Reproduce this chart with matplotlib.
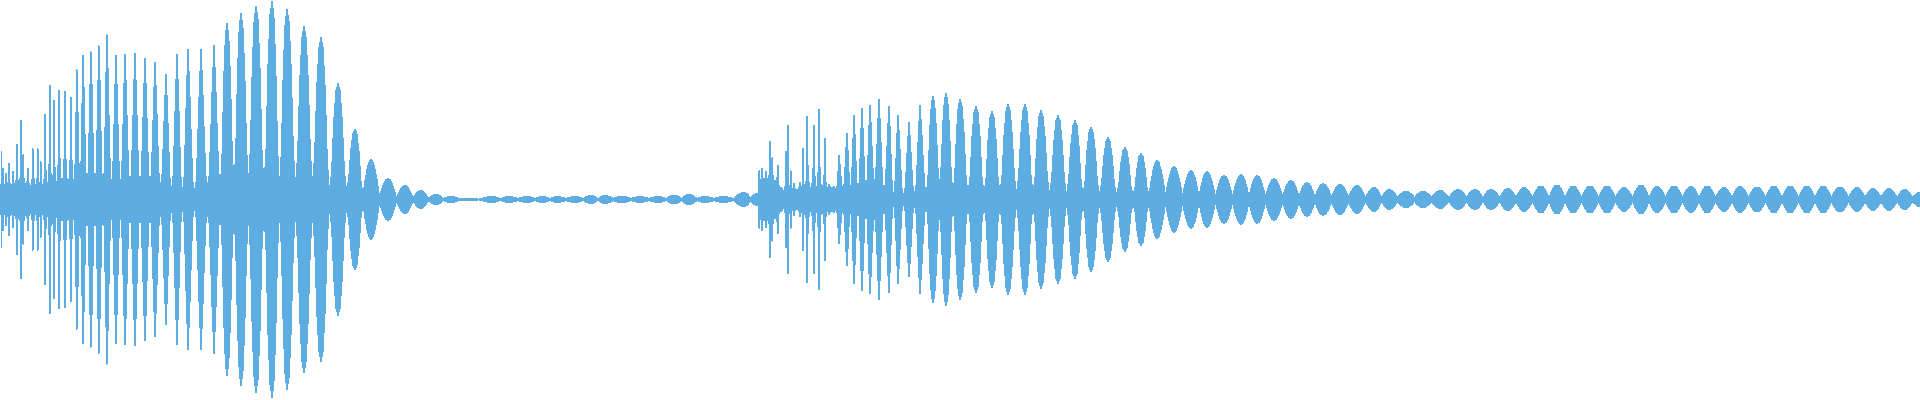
import matplotlib
matplotlib.use("Agg")
import matplotlib.pyplot as plt
import numpy as np

# lobes of the waveform envelope
peak_x = [1, 3, 6, 9, 13, 17, 21, 23, 28, 33, 38, 41, 45, 50, 54, 59, 65, 71, 77, 83,
          91, 99, 107, 116, 125, 135, 145, 155, 166, 177, 188, 201, 214, 227, 241, 256, 272, 287, 304, 321,
          338, 355, 371, 388, 405, 421, 436, 451, 467, 492, 509, 527, 543, 557, 575, 591, 605, 622, 640, 658,
          674, 689, 705, 723, 744, 757, 759, 762, 766, 770, 772, 778, 782, 786, 788, 791, 794, 800, 803, 807,
          814, 819, 825, 829, 834, 839, 847, 854, 862, 870, 879, 889, 898, 909, 920, 933, 946, 960, 976, 992,
          1008, 1025, 1041, 1058, 1075, 1091, 1108, 1125, 1141, 1157, 1174, 1191, 1207, 1224, 1241, 1257, 1274, 1291, 1307, 1323,
          1340, 1357, 1374, 1389, 1406, 1423, 1440, 1458, 1475, 1491, 1508, 1524, 1541, 1557, 1573, 1590, 1607, 1624, 1641, 1657,
          1674, 1691, 1707, 1724, 1740, 1757, 1774, 1790, 1807, 1823, 1840, 1857, 1873, 1889, 1905, 1920]
peak_amp = [49, 31, 26, 36, 28, 56, 80, 45, 31, 51, 51, 38, 86, 115, 100, 110, 109, 103, 130, 144,
            148, 154, 165, 144, 145, 146, 141, 137, 125, 145, 150, 150, 154, 176, 186, 193, 198, 190, 173, 162,
            116, 70, 40, 21, 14, 9, 5, 3, 1, 3, 3, 3, 3, 3, 3, 4, 4, 3.5, 3, 3,
            4.5, 5, 3, 3, 7, 6, 29, 31, 28, 59, 42, 34, 11, 49, 75, 29, 16, 17, 52, 84,
            75, 91, 62, 15, 13, 44, 66, 84, 91, 94, 100, 93, 84, 77, 94, 103, 106, 100, 93, 88,
            95, 95, 89, 84, 79, 72, 62, 52, 46, 39, 33, 29, 28, 24, 25, 24, 21, 19, 17, 16,
            15, 14, 12, 10, 8, 8, 9, 10, 10, 10, 11, 12, 13.5, 14.5, 13.5, 13.5, 13.5, 12, 14.5, 13,
            13.5, 13, 13.5, 12, 13, 12.5, 13.5, 13.5, 13.5, 13.5, 12.5, 12, 11, 11, 10, 7]
trough_amp = [15, 14, 16, 14, 15, 15, 16, 15, 13, 14, 15, 13, 15, 16, 16, 16, 16, 16, 17, 17,
              17, 16, 16, 16, 16, 16, 16, 14, 10, 9, 8, 14, 16, 16, 17, 14, 14, 14, 16, 7,
              8, 5, 3, 1.5, 1.5, 1, 1, 0.8, 0.4, 0.7, 0.8, 0.8, 0.8, 0.8, 0.8, 0.8, 0.8, 0.8, 0.8, 0.8,
              0.8, 0.8, 0.8, 1, 1.5, 5, 20, 20, 20, 18, 18, 12, 9, 10, 11, 10, 10, 11, 11, 11,
              11, 11, 12, 12, 11, 11, 11, 11, 14, 18, 9, 4, 4, 6, 6, 15, 6, 5, 5, 6,
              6, 6, 5, 5, 5, 5, 4, 4, 4, 4, 3.5, 3.5, 3, 3, 3, 3, 3, 3, 2.5, 2.5,
              2.5, 2, 2, 2, 2, 2, 2, 2, 2, 2, 2, 2, 2, 2, 2, 2, 2, 2, 2, 2,
              2, 2, 2, 2, 2, 2, 2, 2, 2, 2, 2, 2, 2, 2, 2, 2]

# how a lobe rises from its trough (0) to its tip (1)
rise = [0.0, 0.25, 0.5, 0.75, 1.0]
spike_shape = [0.0, 0.03, 0.1, 0.35, 1.0]
diamond_shape = [0.0, 0.07, 0.38, 0.75, 1.0]
round_shape = [0.0, 0.2, 0.66, 0.93, 1.0]
# low ripple on the right side stays full
ripple_shape = [0.0, 0.4, 0.72, 0.93, 1.0]


def shape_for(x, amp):
    if x < 75 or 757 < x < 835:
        return spike_shape
    if x < 225 or 835 <= x < 930:
        return diamond_shape
    if amp < 45:
        return ripple_shape
    return round_shape


xs = [0]
ys = [trough_amp[0]]
for i, (px, pa) in enumerate(zip(peak_x, peak_amp)):
    left_x = (peak_x[i - 1] + px) / 2 if i > 0 else px
    right_x = (peak_x[i + 1] + px) / 2 if i < len(peak_x) - 1 else px
    left_t = trough_amp[i - 1] if i > 0 else trough_amp[0]
    right_t = trough_amp[i]
    shape = shape_for(px, pa)
    for r, s in zip(rise, shape):
        xs.append(left_x + (px - left_x) * r)
        ys.append(left_t + (pa - left_t) * s)
    for r, s in zip(rise[::-1][1:], shape[::-1][1:]):
        xs.append(right_x + (px - right_x) * r)
        ys.append(right_t + (pa - right_t) * s)

xs = np.array(xs)
ys = np.array(ys)

fig = plt.figure(figsize=(19.2, 4), dpi=100)
ax = fig.add_axes([0, 0, 1, 1])
ax.fill_between(xs, -ys, ys, color="#5DADE2", linewidth=0, antialiased=False)
ax.set_xlim(0, 1920)
ax.set_ylim(-200.5, 199.5)
ax.axis("off")
plt.savefig("out.png", dpi=100)
